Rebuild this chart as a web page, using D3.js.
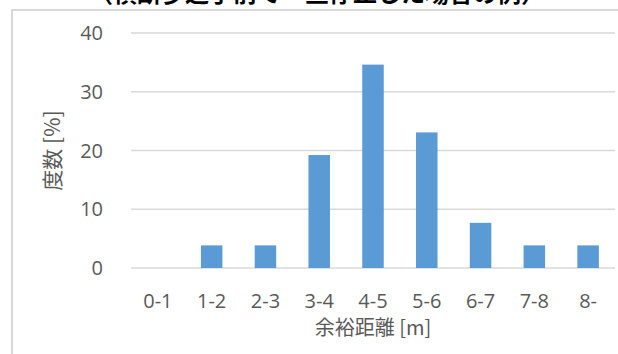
<!DOCTYPE html>
<html>
<head>
<meta charset="utf-8">
<script src="https://cdn.jsdelivr.net/npm/d3@7"></script>
<style>
  html, body { margin: 0; padding: 0; background: #fff; }
  svg { display: block; }
</style>
</head>
<body>
<svg id="chart" width="618" height="354"></svg>
<script>
// Distribution of margin distance (bins in metres) as percentage of cases
const categories = ["0-1", "1-2", "2-3", "3-4", "4-5", "5-6", "6-7", "7-8", "8-"];
const frequencies = [0, 3.85, 3.85, 19.23, 34.62, 23.08, 7.69, 3.85, 3.85];
const yTicks = [0, 10, 20, 30, 40];

const titleText = "（横断歩道手前で一旦停止した場合の例）";
const xTitle = "余裕距離 [m]";
const yTitle = "度数 [%]";

const svg = d3.select("#chart");
const latin = "'Open Sans', 'Noto Sans CJK JP', sans-serif";
const cjk = "'Noto Sans CJK JP', 'Noto Sans', sans-serif";

const plot = { left: 131, right: 615, top: 33, bottom: 268 };

// Chart area frame
svg.append("rect")
  .attr("x", 12).attr("y", 10)
  .attr("width", 700).attr("height", 400)
  .attr("fill", "none")
  .attr("stroke", "#d9d9d9")
  .attr("stroke-width", 2);

// Title (sits above the frame, its upper part runs past the top edge)
svg.append("text")
  .attr("x", 317).attr("y", 2)
  .attr("text-anchor", "middle")
  .attr("font-family", cjk)
  .attr("font-size", 24)
  .attr("font-weight", 700)
  .attr("fill", "#000")
  .text(titleText);

const x = d3.scaleBand()
  .domain(categories)
  .range([plot.left, plot.right])
  .paddingInner(0).paddingOuter(0);

const y = d3.scaleLinear()
  .domain([0, 40])
  .range([plot.bottom, plot.top]);

// Horizontal gridlines
svg.append("g")
  .selectAll("line")
  .data(yTicks)
  .join("line")
  .attr("x1", plot.left).attr("x2", plot.right)
  .attr("y1", d => y(d)).attr("y2", d => y(d))
  .attr("stroke", "#d9d9d9")
  .attr("stroke-width", 1.3);

// Y tick labels
svg.append("g")
  .selectAll("text")
  .data(yTicks)
  .join("text")
  .attr("x", 103)
  .attr("y", d => y(d))
  .attr("dy", "0.36em")
  .attr("text-anchor", "end")
  .attr("font-family", latin)
  .attr("font-size", 20)
  .attr("fill", "#595959")
  .text(d => d);

// Bars: 40% of each band, centred
const barW = x.bandwidth() * 0.4;
svg.append("g")
  .selectAll("rect")
  .data(categories.map((c, i) => ({ c, v: frequencies[i] })))
  .join("rect")
  .attr("x", d => x(d.c) + (x.bandwidth() - barW) / 2)
  .attr("y", d => y(d.v))
  .attr("width", barW)
  .attr("height", d => y(0) - y(d.v))
  .attr("fill", "#5b9bd5");

// X tick labels
svg.append("g")
  .selectAll("text")
  .data(categories)
  .join("text")
  .attr("x", d => x(d) + x.bandwidth() / 2)
  .attr("y", 301)
  .attr("dy", "0.36em")
  .attr("text-anchor", "middle")
  .attr("font-family", latin)
  .attr("font-size", 20)
  .attr("fill", "#595959")
  .text(d => d);

// Axis titles
svg.append("text")
  .attr("x", (plot.left + plot.right) / 2)
  .attr("y", 328)
  .attr("dy", "0.36em")
  .attr("text-anchor", "middle")
  .attr("font-family", cjk)
  .attr("font-size", 20)
  .attr("fill", "#595959")
  .text(xTitle);

svg.append("text")
  .attr("transform", `translate(52, ${(plot.top + plot.bottom) / 2}) rotate(-90)`)
  .attr("dy", "0.36em")
  .attr("text-anchor", "middle")
  .attr("font-family", cjk)
  .attr("font-size", 21)
  .attr("fill", "#595959")
  .text(yTitle);
</script>
</body>
</html>
